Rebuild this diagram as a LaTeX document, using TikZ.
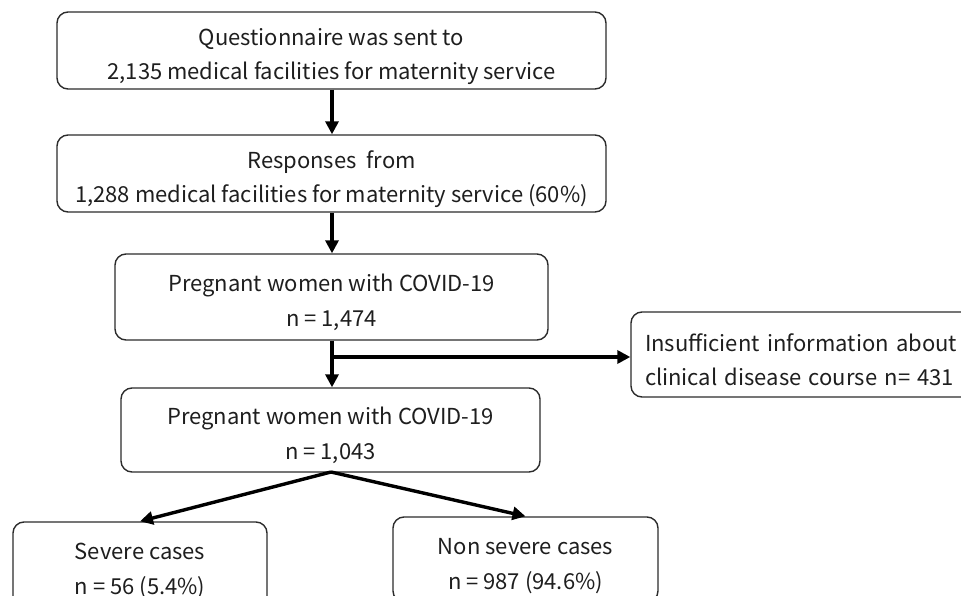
\documentclass[tikz,border=0pt]{standalone}
\usepackage{fontspec}
\setmainfont{Noto Sans CJK JP}
\usetikzlibrary{arrows.meta}
\definecolor{edge}{HTML}{2B2B2B}
\definecolor{txt}{HTML}{1E1E1E}
\newcommand{\topgap}{\rule{0pt}{29pt}}
\begin{document}
\begin{tikzpicture}[x=1pt,y=-1pt,
  box/.style={draw=edge, line width=1.4pt, rounded corners=11pt, align=center,
    inner sep=0pt, text=txt, font=\fontsize{22}{34}\selectfont},
  arr/.style={draw=black, line width=3.4pt, -{Triangle[width=13pt,length=13pt]}}]
\useasboundingbox (0,0) rectangle (961,596);
\clip (0,0) rectangle (961,596);
\node[box, minimum width=549pt, minimum height=77pt] (b1) at (331.5,50.5)
  {\topgap Questionnaire was sent to\\2,135 medical facilities for maternity service};
\node[box, minimum width=549pt, minimum height=77pt] (b2) at (331.5,173.5)
  {\topgap Responses\ \ from\\1,288 medical facilities for maternity service (60\%)};
\node[box, minimum width=433pt, minimum height=86pt] (b3) at (331.5,297)
  {\topgap Pregnant women with COVID-19\\[1pt]n = 1,474};
\node[box, minimum width=350pt, minimum height=85pt, text width=322pt, align=left] (side) at (806,354.5)
  {\topgap Insufficient information about\\clinical disease course n= 431};
\node[box, minimum width=419pt, minimum height=84pt] (b4) at (330.5,430)
  {\topgap Pregnant women with COVID-19\\[1pt]n = 1,043};
\node[box, minimum width=254pt, minimum height=85pt] (b5) at (140,564.5)
  {\topgap Severe cases\\[1pt]n = 56 (5.4\%)};
\node[box, minimum width=265pt, minimum height=85pt] (b6) at (525.5,559.5)
  {\topgap Non severe cases\\[1pt]n = 987 (94.6\%)};
\draw[arr] (b1.south -| 332,0) -- (b2.north -| 332,0);
\draw[arr] (b2.south -| 332,0) -- (b3.north -| 332,0);
\draw[arr] (b3.south -| 332,0) -- (b4.north -| 332,0);
\coordinate (br) at (332,357);
\draw[arr] (br) -- (br -| side.west);
\coordinate (fork) at (331,472);
\draw[arr] (fork) -- (b5.north);
\draw[arr] (fork) -- (b6.north);
\end{tikzpicture}
\end{document}
